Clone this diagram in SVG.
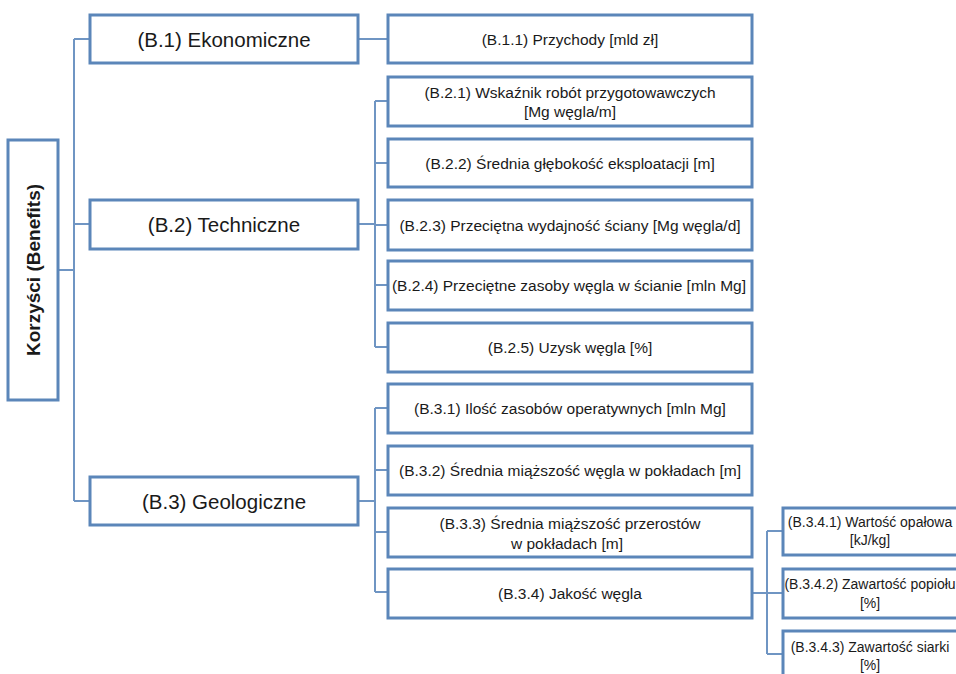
<svg xmlns="http://www.w3.org/2000/svg" width="956" height="674" viewBox="0 0 956 674">
<style>
.box{fill:#fff;stroke:#5B86B9;stroke-width:3}
.con{fill:none;stroke:#6F95C3;stroke-width:2}
text{font-family:"Liberation Sans",Arial,sans-serif;fill:#1a1a1a;text-anchor:middle;dominant-baseline:central}
.l1{font-size:20.5px}
.l2{font-size:15.5px}
.l3{font-size:14px}
.root{font-size:19px;font-weight:bold}
</style>
<rect width="956" height="674" fill="#fff"/>
<g id="connectors">
<path class="con" d="M58,270H74M74,39V501M74,39H90M74,224H90M74,501H90"/>
<path class="con" d="M358,39H388"/>
<path class="con" d="M358,224H375M375,101V347M375,101H388M375,163H388M375,225H388M375,285H388M375,347H388"/>
<path class="con" d="M358,501H375M375,408V592M375,408H388M375,470H388M375,532H388M375,592H388"/>
<path class="con" d="M752,593H767M767,531V654M767,531H783M767,593H783M767,654H783"/>
</g>
<g id="root"><rect class="box" x="8" y="140" width="50" height="260"/><text class="root" transform="translate(33,270) rotate(-90)">Korzyści (Benefits)</text></g>
<g id="B1"><rect class="box" x="90" y="15" width="268" height="48"/><text class="l1" x="224" y="39">(B.1) Ekonomiczne</text></g>
<g id="B2"><rect class="box" x="90" y="200" width="268" height="49"/><text class="l1" x="224" y="224">(B.2) Techniczne</text></g>
<g id="B3"><rect class="box" x="90" y="477" width="268" height="48"/><text class="l1" x="224" y="501">(B.3) Geologiczne</text></g>
<g id="B11"><rect class="box" x="388" y="15" width="364" height="48"/><text class="l2" x="570" y="39">(B.1.1) Przychody [mld zł]</text></g>
<g id="B21"><rect class="box" x="388" y="77" width="364" height="49"/><text class="l2" x="570" y="92">(B.2.1) Wskaźnik robót przygotowawczych</text><text class="l2" x="570" y="111">[Mg węgla/m]</text></g>
<g id="B22"><rect class="box" x="388" y="139" width="364" height="48"/><text class="l2" x="570" y="163">(B.2.2) Średnia głębokość eksploatacji [m]</text></g>
<g id="B23"><rect class="box" x="388" y="200" width="364" height="50"/><text class="l2" x="570" y="225">(B.2.3) Przeciętna wydajność ściany [Mg węgla/d]</text></g>
<g id="B24"><rect class="box" x="388" y="261" width="364" height="49"/><text class="l2" x="569" y="285">(B.2.4) Przeciętne zasoby węgla w ścianie [mln Mg]</text></g>
<g id="B25"><rect class="box" x="388" y="323" width="364" height="49"/><text class="l2" x="570" y="347">(B.2.5) Uzysk węgla [%]</text></g>
<g id="B31"><rect class="box" x="388" y="384" width="364" height="49"/><text class="l2" x="570" y="408">(B.3.1) Ilość zasobów operatywnych [mln Mg]</text></g>
<g id="B32"><rect class="box" x="388" y="446" width="364" height="49"/><text class="l2" x="570" y="470">(B.3.2) Średnia miąższość węgla w pokładach [m]</text></g>
<g id="B33"><rect class="box" x="388" y="508" width="364" height="49"/><text class="l2" x="570" y="523">(B.3.3) Średnia miąższość przerostów</text><text class="l2" x="567" y="543">w pokładach [m]</text></g>
<g id="B34"><rect class="box" x="388" y="569" width="364" height="49"/><text class="l2" x="570" y="593">(B.3.4) Jakość węgla</text></g>
<g id="B341"><rect class="box" x="783" y="508" width="200" height="47"/><text class="l3" x="870" y="522">(B.3.4.1) Wartość opałowa</text><text class="l3" x="870" y="540">[kJ/kg]</text></g>
<g id="B342"><rect class="box" x="783" y="569" width="200" height="49"/><text class="l3" x="870" y="584">(B.3.4.2) Zawartość popiołu</text><text class="l3" x="870" y="603">[%]</text></g>
<g id="B343"><rect class="box" x="783" y="631" width="200" height="60"/><text class="l3" x="870" y="647">(B.3.4.3) Zawartość siarki</text><text class="l3" x="870" y="665">[%]</text></g>
</svg>
